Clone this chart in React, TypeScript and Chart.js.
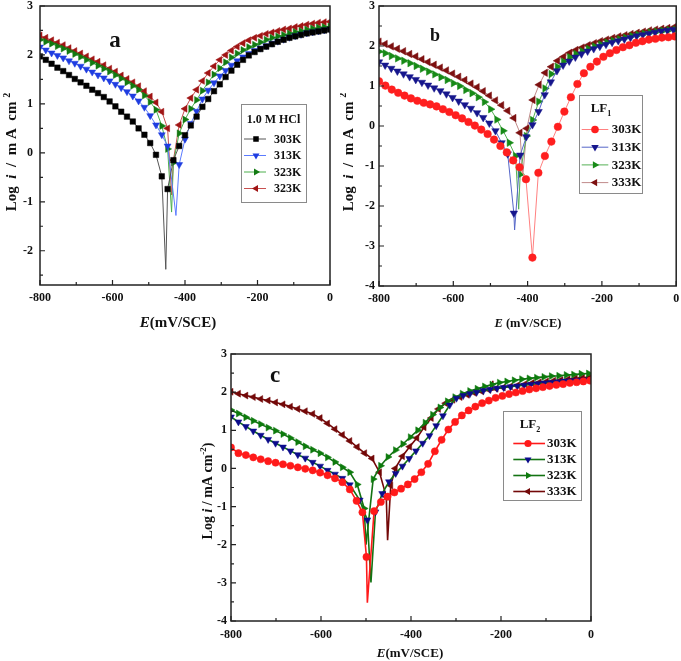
import React, { useEffect, useRef } from "react";
import { Chart, registerables } from "chart.js";
Chart.register(...registerables);

const FONT = '"Liberation Serif", "Times New Roman", serif';

// ---------- axes ----------
const xTickValues = [-800, -600, -400, -200, 0];
const xMinorValues = [-700, -500, -300, -100];
const yTicksA = [-2, -1, 0, 1, 2, 3];
const yTicksBC = [-4, -3, -2, -1, 0, 1, 2, 3];
const legendLabelsA = ["303K", "313K", "323K", "323K"];
const legendLabelsBC = ["303K", "313K", "323K", "333K"];

// ---------- panel a (1.0 M HCl), markers every 16 mV ----------
const a303Left = [1.97, 1.9, 1.82, 1.74, 1.67, 1.59, 1.51, 1.44, 1.37, 1.29, 1.22, 1.14, 1.05, 0.95, 0.84, 0.74, 0.64, 0.5, 0.37, 0.2, -0.04, -0.48];
const a303DipX = [-453];
const a303DipY = [-2.38];
const a303DipM = [0];
const a303Right = [-0.74, -0.15, 0.14, 0.36, 0.56, 0.74, 0.94, 1.1, 1.26, 1.4, 1.55, 1.68, 1.8, 1.9, 1.99, 2.06, 2.12, 2.17, 2.22, 2.27, 2.31, 2.35, 2.38, 2.41, 2.44, 2.46, 2.48, 2.5, 2.52];

const a313Left = [2.16, 2.1, 2.04, 1.99, 1.94, 1.88, 1.83, 1.77, 1.71, 1.65, 1.59, 1.53, 1.47, 1.4, 1.33, 1.25, 1.16, 1.06, 0.93, 0.76, 0.57, 0.37, 0.14];
const a313DipX = [-425];
const a313DipY = [-1.28];
const a313DipM = [0];
const a313Right = [-0.24, 0.28, 0.6, 0.85, 1.1, 1.28, 1.43, 1.57, 1.68, 1.79, 1.88, 1.96, 2.03, 2.09, 2.14, 2.19, 2.24, 2.28, 2.32, 2.36, 2.39, 2.42, 2.45, 2.47, 2.49, 2.51, 2.52];

const a323Left = [2.31, 2.27, 2.23, 2.18, 2.13, 2.08, 2.02, 1.96, 1.9, 1.84, 1.78, 1.72, 1.66, 1.59, 1.52, 1.44, 1.37, 1.29, 1.17, 1.04, 0.88, 0.55, 0.08];
const a323DipX = [-437];
const a323DipY = [-1.21];
const a323DipM = [0];
const a323Right = [-0.2, 0.4, 0.68, 0.9, 1.08, 1.27, 1.44, 1.6, 1.73, 1.85, 1.95, 2.03, 2.1, 2.16, 2.21, 2.26, 2.31, 2.35, 2.38, 2.41, 2.44, 2.47, 2.49, 2.52, 2.54, 2.56, 2.57, 2.58];

const a333Left = [2.4, 2.35, 2.3, 2.25, 2.2, 2.14, 2.08, 2.03, 1.97, 1.91, 1.86, 1.79, 1.72, 1.66, 1.58, 1.51, 1.44, 1.36, 1.26, 1.15, 1.03, 0.84, 0.5];
const a333DipX = [-437];
const a333DipY = [-0.86];
const a333DipM = [0];
const a333Right = [-0.15, 0.57, 0.9, 1.12, 1.29, 1.47, 1.63, 1.77, 1.9, 2.0, 2.09, 2.17, 2.24, 2.3, 2.35, 2.39, 2.43, 2.46, 2.49, 2.52, 2.54, 2.57, 2.59, 2.62, 2.64, 2.66, 2.67, 2.68];

// ---------- panel b (LF1) ----------
const b303Left = [1.12, 1.01, 0.91, 0.83, 0.76, 0.69, 0.63, 0.58, 0.54, 0.49, 0.42, 0.35, 0.27, 0.19, 0.1, 0.01, -0.09, -0.2, -0.34, -0.5, -0.66, -0.86, -1.03, -1.33];
const b303DipX = [-387];
const b303DipY = [-3.29];
const b303DipM = [1];
const b303Right = [-1.17, -0.75, -0.39, -0.02, 0.36, 0.72, 1.05, 1.32, 1.48, 1.61, 1.73, 1.82, 1.9, 1.97, 2.02, 2.08, 2.12, 2.16, 2.18, 2.21, 2.22, 2.24];

const b313Left = [1.6, 1.52, 1.44, 1.37, 1.3, 1.23, 1.16, 1.09, 1.02, 0.95, 0.88, 0.8, 0.71, 0.62, 0.53, 0.44, 0.33, 0.21, 0.07, -0.12, -0.42, -0.7];
const b313DipX = [-437, -435];
const b313DipY = [-2.18, -2.6];
const b313DipM = [1, 0];
const b313Right = [-0.73, -0.27, 0.03, 0.36, 0.78, 1.1, 1.38, 1.52, 1.62, 1.72, 1.8, 1.87, 1.93, 1.99, 2.04, 2.09, 2.13, 2.17, 2.21, 2.25, 2.28, 2.31, 2.34, 2.37, 2.39, 2.41];

const b323Left = [1.86, 1.82, 1.75, 1.69, 1.63, 1.57, 1.5, 1.43, 1.36, 1.29, 1.22, 1.15, 1.07, 1.0, 0.9, 0.82, 0.72, 0.6, 0.42, 0.16, -0.12, -0.42, -0.75];
const b323DipX = [-424];
const b323DipY = [-2.08];
const b323DipM = [0];
const b323Right = [-1.21, -0.25, 0.15, 0.61, 0.94, 1.3, 1.48, 1.61, 1.72, 1.8, 1.87, 1.93, 1.99, 2.04, 2.09, 2.13, 2.17, 2.21, 2.25, 2.28, 2.31, 2.34, 2.36, 2.38, 2.4, 2.41];

const b333Left = [2.11, 2.05, 1.99, 1.93, 1.87, 1.8, 1.74, 1.67, 1.6, 1.53, 1.46, 1.39, 1.31, 1.23, 1.15, 1.06, 0.97, 0.87, 0.76, 0.64, 0.52, 0.38, 0.2, -0.17];
const b333DipX = [-413];
const b333DipY = [-1.25];
const b333DipM = [0];
const b333Right = [-0.06, 0.65, 1.03, 1.33, 1.48, 1.63, 1.73, 1.83, 1.9, 1.96, 2.02, 2.07, 2.12, 2.16, 2.2, 2.24, 2.27, 2.3, 2.33, 2.36, 2.39, 2.41, 2.43, 2.45, 2.47];

// ---------- panel c (LF2) ----------
const c303Left = [0.55, 0.4, 0.35, 0.29, 0.24, 0.19, 0.15, 0.11, 0.07, 0.03, -0.01, -0.05, -0.11, -0.18, -0.26, -0.36, -0.55];
const c303DipX = [-521, -508, -499, -497];
const c303DipY = [-0.85, -1.15, -2.32, -3.52];
const c303DipM = [1, 1, 1, 0];
const c303Right = [-1.12, -0.88, -0.74, -0.63, -0.53, -0.42, -0.28, -0.1, 0.12, 0.45, 0.75, 1.02, 1.22, 1.39, 1.52, 1.62, 1.71, 1.78, 1.85, 1.9, 1.95, 1.99, 2.03, 2.07, 2.1, 2.13, 2.16, 2.19, 2.21, 2.24, 2.26, 2.28, 2.3];

const c313Left = [1.35, 1.22, 1.1, 0.98, 0.87, 0.76, 0.66, 0.56, 0.46, 0.36, 0.27, 0.16, 0.06, -0.05, -0.15, -0.26, -0.43];
const c313DipX = [-514, -497, -489];
const c313DipY = [-0.83, -1.35, -2.99];
const c313DipM = [1, 1, 0];
const c313Right = [-1.14, -0.66, -0.35, -0.13, 0.06, 0.26, 0.46, 0.66, 0.86, 1.12, 1.38, 1.66, 1.84, 1.91, 1.96, 2.0, 2.04, 2.07, 2.1, 2.12, 2.14, 2.16, 2.18, 2.2, 2.22, 2.24, 2.25, 2.27, 2.29, 2.3, 2.31, 2.32];

const c323Left = [1.53, 1.44, 1.34, 1.25, 1.16, 1.07, 0.99, 0.9, 0.8, 0.69, 0.58, 0.49, 0.4, 0.29, 0.17, 0.03, -0.1, -0.42];
const c323DipX = [-504, -500];
const c323DipY = [-1.05, -2.0];
const c323DipM = [1, 0];
const c323Right = [-0.28, 0.07, 0.3, 0.48, 0.64, 0.82, 1.0, 1.2, 1.41, 1.6, 1.76, 1.87, 1.96, 2.03, 2.09, 2.15, 2.2, 2.25, 2.28, 2.31, 2.34, 2.36, 2.38, 2.4, 2.42, 2.43, 2.45, 2.46, 2.48, 2.49];

const c333Left = [2.01, 1.96, 1.91, 1.87, 1.82, 1.78, 1.73, 1.68, 1.62, 1.56, 1.5, 1.43, 1.32, 1.18, 1.03, 0.88, 0.72, 0.56, 0.4, 0.26, -0.1];
const c333DipX = [-455, -452, -445, -219, -218.5, -218];
const c333DipY = [-0.74, -1.88, -0.45, 2.06, 2.3, 2.06];
const c333DipM = [1, 0, 1, 0, 0, 0];
const c333Right = [0.0, 0.32, 0.57, 0.8, 1.08, 1.32, 1.56, 1.71, 1.8, 1.87, 1.93, 1.98, 2.02, 2.06, 2.09, 2.12, 2.15, 2.18, 2.21, 2.24, 2.26, 2.28, 2.3, 2.32, 2.34, 2.36, 2.38, 2.39];

// ---------- helpers ----------
function build(lStart: number, lStep: number, lY: number[], mX: number[], mY: number[], mM: number[], rStart: number, rStep: number, rY: number[]) {
  const p: any[] = [];
  lY.forEach((y, i) => p.push({ x: lStart + i * lStep, y, m: 1 }));
  mX.forEach((x, i) => p.push({ x, y: mY[i], m: mM[i] }));
  rY.forEach((y, i) => p.push({ x: rStart + i * rStep, y, m: 1 }));
  p.sort((a, b) => a.x - b.x);
  return p;
}

type Seg = { t: string; it?: boolean; sup?: boolean; sub?: boolean };

function drawRich(ctx: CanvasRenderingContext2D, segs: Seg[], cx: number, cy: number, size: number, rotate: boolean) {
  ctx.save();
  ctx.translate(cx, cy);
  if (rotate) ctx.rotate(-Math.PI / 2);
  const fontFor = (s: Seg) => `${s.it ? "italic " : ""}bold ${s.sup || s.sub ? Math.round(size * 0.65) : size}px ${FONT}`;
  let w = 0;
  for (const s of segs) {
    ctx.font = fontFor(s);
    w += ctx.measureText(s.t).width;
  }
  let x = -w / 2;
  ctx.textBaseline = "alphabetic";
  ctx.textAlign = "left";
  ctx.fillStyle = "#111";
  for (const s of segs) {
    ctx.font = fontFor(s);
    const dy = s.sup ? -size * 0.42 : s.sub ? size * 0.28 : 0;
    ctx.fillText(s.t, x, size * 0.34 + dy);
    x += ctx.measureText(s.t).width;
  }
  ctx.restore();
}

function drawMarker(ctx: CanvasRenderingContext2D, style: string, rot: number, x: number, y: number, r: number, color: string) {
  ctx.save();
  ctx.fillStyle = color;
  ctx.beginPath();
  if (style === "rect") {
    const s = r * Math.SQRT1_2;
    ctx.rect(x - s, y - s, 2 * s, 2 * s);
  } else if (style === "circle") {
    ctx.arc(x, y, r, 0, Math.PI * 2);
  } else {
    let a = (rot * Math.PI) / 180;
    for (let i = 0; i < 3; i++) {
      const px = x + Math.sin(a) * r;
      const py = y - Math.cos(a) * r;
      if (i === 0) ctx.moveTo(px, py);
      else ctx.lineTo(px, py);
      a += (2 * Math.PI) / 3;
    }
    ctx.closePath();
  }
  ctx.fill();
  ctx.restore();
}

// ---------- panels ----------
const panels: any[] = [
  {
    key: "a", left: 0, top: 0, w: 340, h: 335, padTop: 6, padRight: 10, yW: 40, xH: 50,
    yMin: -2.7, yMax: 3, yTicks: yTicksA, yPad: 7, xPad: 6,
    letter: "a", letterPos: [115, 47], letterSize: 23,
    xTitle: [{ t: "E", it: true }, { t: "(mV/SCE)" }], xTitlePos: [178, 322], xTitleSize: 15,
    yTitle: [{ t: "Log  " }, { t: "i", it: true }, { t: "  /  m A  cm " }, { t: "2", sup: true }], yTitlePos: [11, 152], yTitleSize: 15,
    legend: {
      box: [241, 104, 65, 98], title: [{ t: "1.0 M HCl" }], titlePos: [273.5, 119], titleSize: 12,
      row0: 139, rowGap: 16.5, line: [244, 266], markX: 256, textX: 274, size: 12, labels: legendLabelsA,
    },
    series: [
      { pts: build(-800, 16, a303Left, a303DipX, a303DipY, a303DipM, -448, 16, a303Right), marker: "rect", rot: 0, r: 3.9, mColor: "#000000", lColor: "#555555", lw: 1 },
      { pts: build(-800, 16, a313Left, a313DipX, a313DipY, a313DipM, -416, 16, a313Right), marker: "triangle", rot: 180, r: 4, mColor: "#1f3de0", lColor: "#5b7bff", lw: 1 },
      { pts: build(-800, 16, a323Left, a323DipX, a323DipY, a323DipM, -432, 16, a323Right), marker: "triangle", rot: 90, r: 4, mColor: "#127a12", lColor: "#4caf4c", lw: 1 },
      { pts: build(-800, 16, a333Left, a333DipX, a333DipY, a333DipM, -432, 16, a333Right), marker: "triangle", rot: 270, r: 4, mColor: "#a01414", lColor: "#c85050", lw: 1 },
    ],
  },
  {
    key: "b", left: 340, top: 0, w: 341, h: 335, padTop: 6, padRight: 2, yW: 39, xH: 49,
    yMin: -4, yMax: 3, yTicks: yTicksBC, yPad: 4, xPad: 6,
    letter: "b", letterPos: [95, 40.5], letterSize: 18,
    xTitle: [{ t: "E", it: true }, { t: " (mV/SCE)" }], xTitlePos: [188, 323], xTitleSize: 12.5,
    yTitle: [{ t: "Log  " }, { t: "i", it: true }, { t: "  /  m A  cm " }, { t: "2", sup: true }], yTitlePos: [7.5, 152], yTitleSize: 15,
    legend: {
      box: [239, 95, 63, 98], title: [{ t: "LF" }, { t: "1", sub: true }], titlePos: [261, 108], titleSize: 13,
      row0: 129.5, rowGap: 17.7, line: [241.7, 268.3], markX: 255, textX: 271.7, size: 13, labels: legendLabelsBC,
    },
    series: [
      { pts: build(-800, 17.2, b303Left, b303DipX, b303DipY, b303DipM, -371, 17.5, b303Right), marker: "circle", rot: 0, r: 3.8, mColor: "#ff1f1f", lColor: "#ff8080", lw: 1 },
      { pts: build(-800, 16.5, b313Left, b313DipX, b313DipY, b313DipM, -420, 16.5, b313Right), marker: "triangle", rot: 180, r: 4.3, mColor: "#16168c", lColor: "#5566c8", lw: 1 },
      { pts: build(-800, 16.7, b323Left, b323DipX, b323DipY, b323DipM, -420, 16.7, b323Right), marker: "triangle", rot: 90, r: 4.3, mColor: "#178a17", lColor: "#55b055", lw: 1 },
      { pts: build(-800, 16.5, b333Left, b333DipX, b333DipY, b333DipM, -402, 16.5, b333Right), marker: "triangle", rot: 270, r: 4.3, mColor: "#7d1010", lColor: "#c08a8a", lw: 1 },
    ],
  },
  {
    key: "c", left: 190, top: 340, w: 410, h: 321, padTop: 14, padRight: 9, yW: 41, xH: 40,
    yMin: -4, yMax: 3, yTicks: yTicksBC, yPad: 4, xPad: 7,
    letter: "c", letterPos: [85, 41.5], letterSize: 23,
    xTitle: [{ t: "E", it: true }, { t: "(mV/SCE)" }], xTitlePos: [220, 313], xTitleSize: 13,
    yTitle: [{ t: "Log " }, { t: "i", it: true }, { t: " / mA cm" }, { t: "-2", sup: true }, { t: ")" }], yTitlePos: [17.5, 151], yTitleSize: 14,
    legend: {
      box: [313, 71, 78, 89], title: [{ t: "LF" }, { t: "2", sub: true }], titlePos: [340, 84], titleSize: 13,
      row0: 103.5, rowGap: 16, line: [323.3, 355], markX: 338, textX: 357, size: 13, labels: legendLabelsBC,
    },
    series: [
      { pts: build(-800, 16.5, c303Left, c303DipX, c303DipY, c303DipM, -482, 15, c303Right), marker: "circle", rot: 0, r: 3.6, mColor: "#ff1a1a", lColor: "#ff1a1a", lw: 1.6 },
      { pts: build(-800, 16.5, c313Left, c313DipX, c313DipY, c313DipM, -479, 15, c313Right), marker: "triangle", rot: 180, r: 4, mColor: "#0c0c8c", lColor: "#137313", lw: 1.6 },
      { pts: build(-800, 16.5, c323Left, c323DipX, c323DipY, c323DipM, -484, 16.5, c323Right), marker: "triangle", rot: 90, r: 4, mColor: "#0d7a0d", lColor: "#137313", lw: 1.6 },
      { pts: build(-800, 16.5, c333Left, c333DipX, c333DipY, c333DipM, -435, 16, c333Right), marker: "triangle", rot: 270, r: 4, mColor: "#730808", lColor: "#730808", lw: 1.6 },
    ],
  },
];

function makeDecor(p: any) {
  return {
    id: "decor" + p.key,
    afterDraw(chart: any) {
      const ctx: CanvasRenderingContext2D = chart.ctx;
      const ca = chart.chartArea;
      const xs = chart.scales.x;
      const ys = chart.scales.y;
      ctx.save();
      // frame
      ctx.strokeStyle = "#222";
      ctx.lineWidth = 1.5;
      ctx.strokeRect(ca.left, ca.top, ca.right - ca.left, ca.bottom - ca.top);
      // inward ticks
      ctx.lineWidth = 1.2;
      ctx.beginPath();
      xTickValues.forEach((v) => {
        const px = xs.getPixelForValue(v);
        ctx.moveTo(px, ca.bottom);
        ctx.lineTo(px, ca.bottom - 5);
      });
      xMinorValues.forEach((v) => {
        const px = xs.getPixelForValue(v);
        ctx.moveTo(px, ca.bottom);
        ctx.lineTo(px, ca.bottom - 3);
      });
      p.yTicks.forEach((v: number) => {
        const py = ys.getPixelForValue(v);
        ctx.moveTo(ca.left, py);
        ctx.lineTo(ca.left + 5, py);
        const h = v + 0.5;
        if (h < p.yMax) {
          const ph = ys.getPixelForValue(h);
          ctx.moveTo(ca.left, ph);
          ctx.lineTo(ca.left + 3, ph);
        }
        const l = v - 0.5;
        if (v === p.yTicks[0] && l > p.yMin) {
          const pl = ys.getPixelForValue(l);
          ctx.moveTo(ca.left, pl);
          ctx.lineTo(ca.left + 3, pl);
        }
      });
      ctx.stroke();
      // panel letter
      ctx.font = `bold ${p.letterSize}px ${FONT}`;
      ctx.fillStyle = "#111";
      ctx.textAlign = "center";
      ctx.textBaseline = "alphabetic";
      ctx.fillText(p.letter, p.letterPos[0], p.letterPos[1]);
      // axis titles
      drawRich(ctx, p.xTitle, p.xTitlePos[0], p.xTitlePos[1], p.xTitleSize, false);
      drawRich(ctx, p.yTitle, p.yTitlePos[0], p.yTitlePos[1], p.yTitleSize, true);
      // legend
      const L = p.legend;
      ctx.fillStyle = "#fff";
      ctx.fillRect(L.box[0], L.box[1], L.box[2], L.box[3]);
      ctx.strokeStyle = "#8a8a8a";
      ctx.lineWidth = 1;
      ctx.strokeRect(L.box[0] + 0.5, L.box[1] + 0.5, L.box[2], L.box[3]);
      drawRich(ctx, L.title, L.titlePos[0], L.titlePos[1], L.titleSize, false);
      p.series.forEach((s: any, i: number) => {
        const y = L.row0 + i * L.rowGap;
        ctx.strokeStyle = s.lColor;
        ctx.lineWidth = s.lw;
        ctx.beginPath();
        ctx.moveTo(L.line[0], y);
        ctx.lineTo(L.line[1], y);
        ctx.stroke();
        drawMarker(ctx, s.marker, s.rot, L.markX, y, s.r, s.mColor);
        ctx.font = `bold ${L.size}px ${FONT}`;
        ctx.fillStyle = "#111";
        ctx.textAlign = "left";
        ctx.textBaseline = "middle";
        ctx.fillText(L.labels[i], L.textX, y + 0.5);
      });
      ctx.restore();
    },
  };
}

function Panel({ p }: { p: any }) {
  const ref = useRef<HTMLCanvasElement>(null);
  useEffect(() => {
    const tickFont = { family: FONT, size: 12, weight: "bold" as const };
    const chart = new Chart(ref.current as HTMLCanvasElement, {
      type: "scatter",
      data: {
        datasets: p.series.map((s: any, i: number) => ({
          label: p.legend.labels[i],
          data: s.pts,
          showLine: true,
          borderColor: s.lColor,
          borderWidth: s.lw,
          backgroundColor: s.mColor,
          pointBackgroundColor: s.mColor,
          pointBorderColor: s.mColor,
          pointBorderWidth: 0.5,
          pointStyle: s.marker,
          pointRotation: s.rot,
          pointRadius: (c: any) => (c.raw && c.raw.m ? s.r : 0),
          pointHoverRadius: 0,
          tension: 0,
        })),
      },
      options: {
        animation: false,
        responsive: false,
        devicePixelRatio: 1,
        events: [],
        layout: { padding: { top: p.padTop, right: p.padRight, left: 0, bottom: 0 } },
        plugins: { legend: { display: false }, tooltip: { enabled: false }, title: { display: false } },
        scales: {
          x: {
            type: "linear",
            min: -800,
            max: 0,
            grid: { display: false, drawTicks: false },
            border: { display: false },
            ticks: { font: tickFont, color: "#111", padding: p.xPad, autoSkip: false, maxRotation: 0, includeBounds: false },
            afterBuildTicks: (sc: any) => {
              sc.ticks = xTickValues.map((v) => ({ value: v }));
            },
            afterFit: (sc: any) => {
              sc.height = p.xH;
              sc.paddingLeft = 0;
              sc.paddingRight = 0;
            },
          },
          y: {
            type: "linear",
            min: p.yMin,
            max: p.yMax,
            grid: { display: false, drawTicks: false },
            border: { display: false },
            ticks: { font: tickFont, color: "#111", padding: p.yPad, autoSkip: false, includeBounds: false },
            afterBuildTicks: (sc: any) => {
              sc.ticks = p.yTicks.map((v: number) => ({ value: v }));
            },
            afterFit: (sc: any) => {
              sc.width = p.yW;
              sc.paddingTop = 0;
              sc.paddingBottom = 0;
            },
          },
        },
      } as any,
      plugins: [makeDecor(p)],
    });
    return () => chart.destroy();
  }, []);
  return (
    <canvas
      ref={ref}
      width={p.w}
      height={p.h}
      style={{ position: "absolute", left: p.left, top: p.top, width: p.w, height: p.h }}
    />
  );
}

export default function App() {
  return (
    <div style={{ position: "fixed", left: 0, top: 0, width: 681, height: 661, background: "#fff", overflow: "hidden" }}>
      {panels.map((p) => (
        <Panel key={p.key} p={p} />
      ))}
    </div>
  );
}
